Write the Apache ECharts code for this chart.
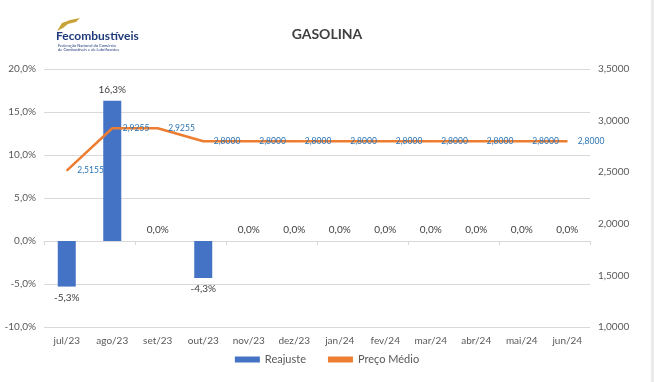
<!DOCTYPE html>
<html><head><meta charset="utf-8">
<script src="https://cdn.jsdelivr.net/npm/echarts@6/dist/echarts.min.js"></script>
<style>html,body{margin:0;padding:0;background:#fff}#c{width:654px;height:382px}</style>
</head><body><div id="c"></div>
<script>
const categories = ['jul/23','ago/23','set/23','out/23','nov/23','dez/23','jan/24','fev/24','mar/24','abr/24','mai/24','jun/24'];
const reajuste = [-5.3, 16.3, 0.0, -4.3, 0.0, 0.0, 0.0, 0.0, 0.0, 0.0, 0.0, 0.0];
const precoMedio = [2.5155, 2.9255, 2.9255, 2.8000, 2.8000, 2.8000, 2.8000, 2.8000, 2.8000, 2.8000, 2.8000, 2.8000];
const leftTicks = {min: -10, max: 20, interval: 5};
const rightTicks = {min: 1.0, max: 3.5, interval: 0.5};

const FONT = 'Lato';
const chart = echarts.init(document.getElementById('c'), null, {renderer: 'canvas'});
const fmtPct = v => v.toFixed(1).replace('.', ',') + '%';
const fmtPrice = v => v.toFixed(4).replace('.', ',');

const barData = reajuste.map(v => ({value: v, label: {position: v < 0 ? 'bottom' : 'top'}}));

chart.setOption({
  animation: false,
  backgroundColor: '#fff',
  textStyle: {fontFamily: FONT},
  title: {
    text: 'GASOLINA', left: 'center', top: 22,
    textStyle: {fontFamily: FONT, fontSize: 14, fontWeight: 'bold', color: '#404040'}
  },
  graphic: [
    {type: 'rect', right: 0, top: 0, shape: {width: 3, height: 382}, style: {fill: '#ebebeb'}},
    {type: 'polygon', shape: {points: [[57,31],[62,23],[70,20],[80,18],[76,22],[68,24],[63,28]]}, style: {fill: '#c9a43a'}},
    {type: 'text', left: 56, top: 30, style: {text: 'Fecombustíveis', font: 'bold 12px Lato', fill: '#1f3a7a'}},
    {type: 'text', left: 58, top: 44, style: {text: 'Federação Nacional do Comércio\nde Combustíveis e de Lubrificantes', font: '4px Lato', fill: '#1f3a7a', lineHeight: 4}}
  ],
  legend: {
    bottom: 12, left: 'center', itemGap: 22, itemWidth: 25, itemHeight: 6,
    textStyle: {fontFamily: FONT, fontSize: 11, color: '#595959'},
    data: [{name: 'Reajuste', icon: 'rect'}, {name: 'Preço Médio', icon: 'rect', itemStyle: {color: '#ed7d31'}}]
  },
  grid: {left: 44, right: 64, top: 69, bottom: 55},
  xAxis: [
    {type: 'category', data: categories, position: 'bottom',
     axisLine: {show: false, onZero: false}, axisTick: {show: false},
     axisLabel: {color: '#595959', fontSize: 10, fontFamily: FONT, margin: 9}},
    {type: 'category', data: categories, position: 'bottom',
     axisLine: {show: true, onZero: true, onZeroAxisIndex: 0, lineStyle: {color: '#d9d9d9'}},
     axisTick: {show: true, length: 4, lineStyle: {color: '#d9d9d9'}},
     axisLabel: {show: false}}
  ],
  yAxis: [
    {type: 'value', min: leftTicks.min, max: leftTicks.max, interval: leftTicks.interval,
     axisLabel: {formatter: fmtPct, color: '#595959', fontSize: 10, fontFamily: FONT, margin: 8},
     splitLine: {lineStyle: {color: '#d9d9d9'}}, axisLine: {show: false}, axisTick: {show: false}},
    {type: 'value', min: rightTicks.min, max: rightTicks.max, interval: rightTicks.interval, position: 'right',
     axisLabel: {formatter: fmtPrice, color: '#595959', fontSize: 10, fontFamily: FONT, margin: 8},
     splitLine: {show: false}, axisLine: {show: false}, axisTick: {show: false}}
  ],
  series: [
    {name: 'Reajuste', type: 'bar', data: barData, xAxisIndex: 0, yAxisIndex: 0, barWidth: 18,
     itemStyle: {color: '#4472c4'},
     label: {show: true, formatter: p => fmtPct(p.value), color: '#404040', fontSize: 10, fontFamily: FONT, distance: 6}
    },
    {name: 'Preço Médio', type: 'line', data: precoMedio, xAxisIndex: 0, yAxisIndex: 1,
     symbol: 'circle', symbolSize: 1, showSymbol: true,
     lineStyle: {color: '#ed7d31', width: 2.5}, itemStyle: {color: '#ed7d31'},
     label: {show: true, position: 'right', distance: 10, formatter: p => fmtPrice(p.value), color: '#2e75b6', fontSize: 8.5, fontFamily: FONT}
    }
  ]
});
</script></body></html>
